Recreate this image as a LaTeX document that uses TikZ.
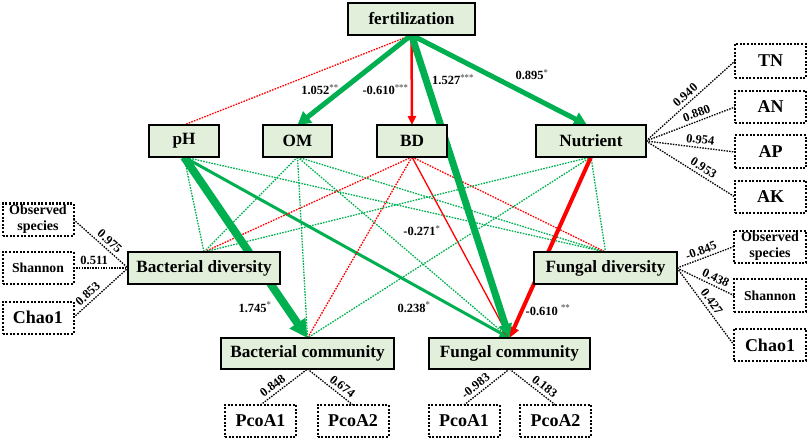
\documentclass[tikz,border=0pt]{standalone}
\usepackage{fontspec}
\setmainfont{Liberation Serif}
\usetikzlibrary{arrows.meta,backgrounds,calc}
\definecolor{gline}{HTML}{00B050}
\definecolor{rline}{HTML}{FF0000}
\definecolor{boxfill}{HTML}{E2EFDA}
\tikzset{
  latent/.style={draw=black, line width=2.2pt, fill=boxfill, inner sep=0pt, outer sep=0pt, minimum height=32pt,
    font=\fontsize{17.2}{20}\selectfont\bfseries},
  manifest/.style={draw=black, line width=2pt, dash pattern=on 2pt off 1.6pt, fill=white, inner sep=0pt, outer sep=0pt,
    minimum width=71pt, minimum height=32pt, font=\fontsize{18}{20}\selectfont\bfseries, align=center},
  smalltxt/.style={font=\fontsize{14}{16}\selectfont\bfseries},
  gdot/.style={draw=gline, line width=1.3pt, dash pattern=on 1.6pt off 1.2pt},
  rdot/.style={draw=rline, line width=1.3pt, dash pattern=on 1.6pt off 1.2pt},
  kdot/.style={draw=black, line width=1.3pt, dash pattern=on 1.5pt off 1.2pt},
  lab/.style={font=\fontsize{12.5}{14}\selectfont\bfseries, inner sep=1pt},
  slab/.style={lab, sloped, above=2pt},
}
\newcommand{\stars}[1]{\textsuperscript{\color{black!60}#1}}
\begin{document}
\begin{tikzpicture}[x=1pt,y=-1pt]
\useasboundingbox (0,0) rectangle (809,441);
% latent nodes
\node[latent, minimum width=127pt] (fert) at (411.5,19) {fertilization};
\node[latent, minimum width=70pt] (pH) at (184,141) {pH};
\node[latent, minimum width=69pt] (OM) at (297.5,141) {OM};
\node[latent, minimum width=70pt] (BD) at (412,141) {BD};
\node[latent, minimum width=110pt] (Nut) at (591,141) {Nutrient};
\node[latent, minimum width=152pt] (BDiv) at (204,268) {Bacterial diversity};
\node[latent, minimum width=143pt] (FDiv) at (605.5,268) {Fungal diversity};
\node[latent, minimum width=173pt, minimum height=31pt] (BCom) at (307.5,353.5) {Bacterial community};
\node[latent, minimum width=161pt, minimum height=31pt] (FCom) at (509.5,353.5) {Fungal community};
% manifest nodes
\node[manifest, minimum height=34pt] (TN) at (770.5,61) {TN};
\node[manifest] (AN) at (770.5,107) {AN};
\node[manifest, minimum height=33pt] (AP) at (770.5,152) {AP};
\node[manifest] (AK) at (770.5,197) {AK};
\node[manifest, smalltxt] (LObs) at (38,219.5) {Observed\\species};
\node[manifest, font=\fontsize{13.7}{16}\selectfont\bfseries] (LSha) at (38,268) {Shannon};
\node[manifest] (LCha) at (38,317.5) {Chao1};
\node[manifest, smalltxt, minimum width=72pt] (RObs) at (770,246.5) {Observed\\species};
\node[manifest, minimum width=72pt, minimum height=33pt, font=\fontsize{13.7}{16}\selectfont\bfseries] (RSha) at (770,295.5) {Shannon};
\node[manifest, minimum width=72pt] (RCha) at (770,345) {Chao1};
\node[manifest] (BP1) at (260.5,421) {PcoA1};
\node[manifest] (BP2) at (353,421) {PcoA2};
\node[manifest] (FP1) at (464,421) {PcoA1};
\node[manifest] (FP2) at (555.5,421) {PcoA2};
% structural paths
\begin{scope}[on background layer]
\draw[rdot] (fert.south) -- (pH.north);
\draw[gline, line width=5pt, -{Triangle[length=13pt,width=14pt]}] (fert.south) -- (OM.north);
\draw[rline, line width=2.5pt, -{Triangle[length=9pt,width=8pt]}] (fert.south) -- (BD.north);
\draw[gline, line width=5pt, -{Triangle[length=13pt,width=14pt]}] (fert.south) -- ($(Nut.north)+(-4,0)$);
% from pH
\draw[gdot] (pH.south) -- (BDiv.north);
\draw[gdot] (pH.south) -- (FDiv.north);
\draw[gline, line width=3pt, -{Triangle[length=10pt,width=9pt]}] (pH.south) -- (FCom.north);
% from OM
\draw[gdot] (OM.south) -- (BDiv.north);
\draw[gdot] (OM.south) -- (FDiv.north);
\draw[gdot] (OM.south) -- (BCom.north);
\draw[gdot] (OM.south) -- (FCom.north);
% from BD
\draw[rdot] (BD.south) -- (BDiv.north);
\draw[rdot] (BD.south) -- (FDiv.north);
\draw[rdot] (BD.south) -- (BCom.north);
\draw[rline, line width=1.3pt, -{Triangle[length=8pt,width=6pt]}] (BD.south) -- (FCom.north);
% from Nutrient
\draw[gdot] (Nut.south) -- (BDiv.north);
\draw[gdot] (Nut.south) -- (FDiv.north);
\draw[gdot] (Nut.south) -- (BCom.north);
\draw[rline, line width=4pt, -{Triangle[length=11pt,width=10pt]}] (Nut.south) -- (FCom.north);
% thick ones on top
\draw[gline, line width=8pt, -{Triangle[length=18pt,width=18pt]}] (pH.south) -- (BCom.north);
\draw[gline, line width=7pt, -{Triangle[length=14pt,width=13pt]}] (fert.south) -- (FCom.north);
\end{scope}
% measurement paths
\draw[kdot] (Nut.east) -- node[slab, pos=0.5] (tn) {0.940} (TN.west);
\draw[kdot] (Nut.east) -- node[slab, pos=0.6] (an) {0.880} (AN.west);
\draw[kdot] (Nut.east) -- node[slab, pos=0.6] (ap) {0.954} (AP.west);
\draw[kdot] (Nut.east) -- node[slab, pos=0.6] (ak) {0.953} (AK.west);
\draw[kdot] (LObs.east) -- node[slab, pos=0.57] (lo) {0.975} (BDiv.west);
\draw[kdot] (LSha.east) -- node[slab, pos=0.38] (ls) {0.511} (BDiv.west);
\draw[kdot] (LCha.east) -- node[slab, pos=0.36] (lc) {0.853} (BDiv.west);
\draw[kdot] (FDiv.east) -- node[slab, pos=0.47] (ro) {-0.845} (RObs.west);
\draw[kdot] (FDiv.east) -- node[slab, pos=0.62] (rs) {0.438} (RSha.west);
\draw[kdot] (FDiv.east) -- node[slab, pos=0.5] (rc) {0.427} (RCha.west);
\draw[kdot] (BP1.north) -- node[slab, pos=0.36] (b1) {0.848} (BCom.south);
\draw[kdot] (BCom.south) -- node[slab, pos=0.66] (b2) {0.674} (BP2.north);
\draw[kdot] (FP1.north) -- node[slab, pos=0.36] (f1) {-0.983} (FCom.south);
\draw[kdot] (FCom.south) -- node[slab, pos=0.66] (f2) {0.183} (FP2.north);
% path coefficients
\node[lab, anchor=base] (l1) at (320,95) {1.052\stars{**}};
\node[lab, anchor=base] (l2) at (385.5,95) {-0.610\stars{***}};
\node[lab, anchor=base] (l3) at (453,85) {1.527\stars{***}};
\node[lab, anchor=base] (l4) at (532,80) {0.895\stars{*}};
\node[lab, anchor=base] (l5) at (255,312) {1.745\stars{*}};
\node[lab, anchor=base] (l6) at (414,312) {0.238\stars{*}};
\node[lab, anchor=base] (l7) at (422,235.5) {-0.271\stars{*}};
\node[lab, anchor=base] (l8) at (548,315) {-0.610 \stars{**}};
\end{tikzpicture}
\end{document}
